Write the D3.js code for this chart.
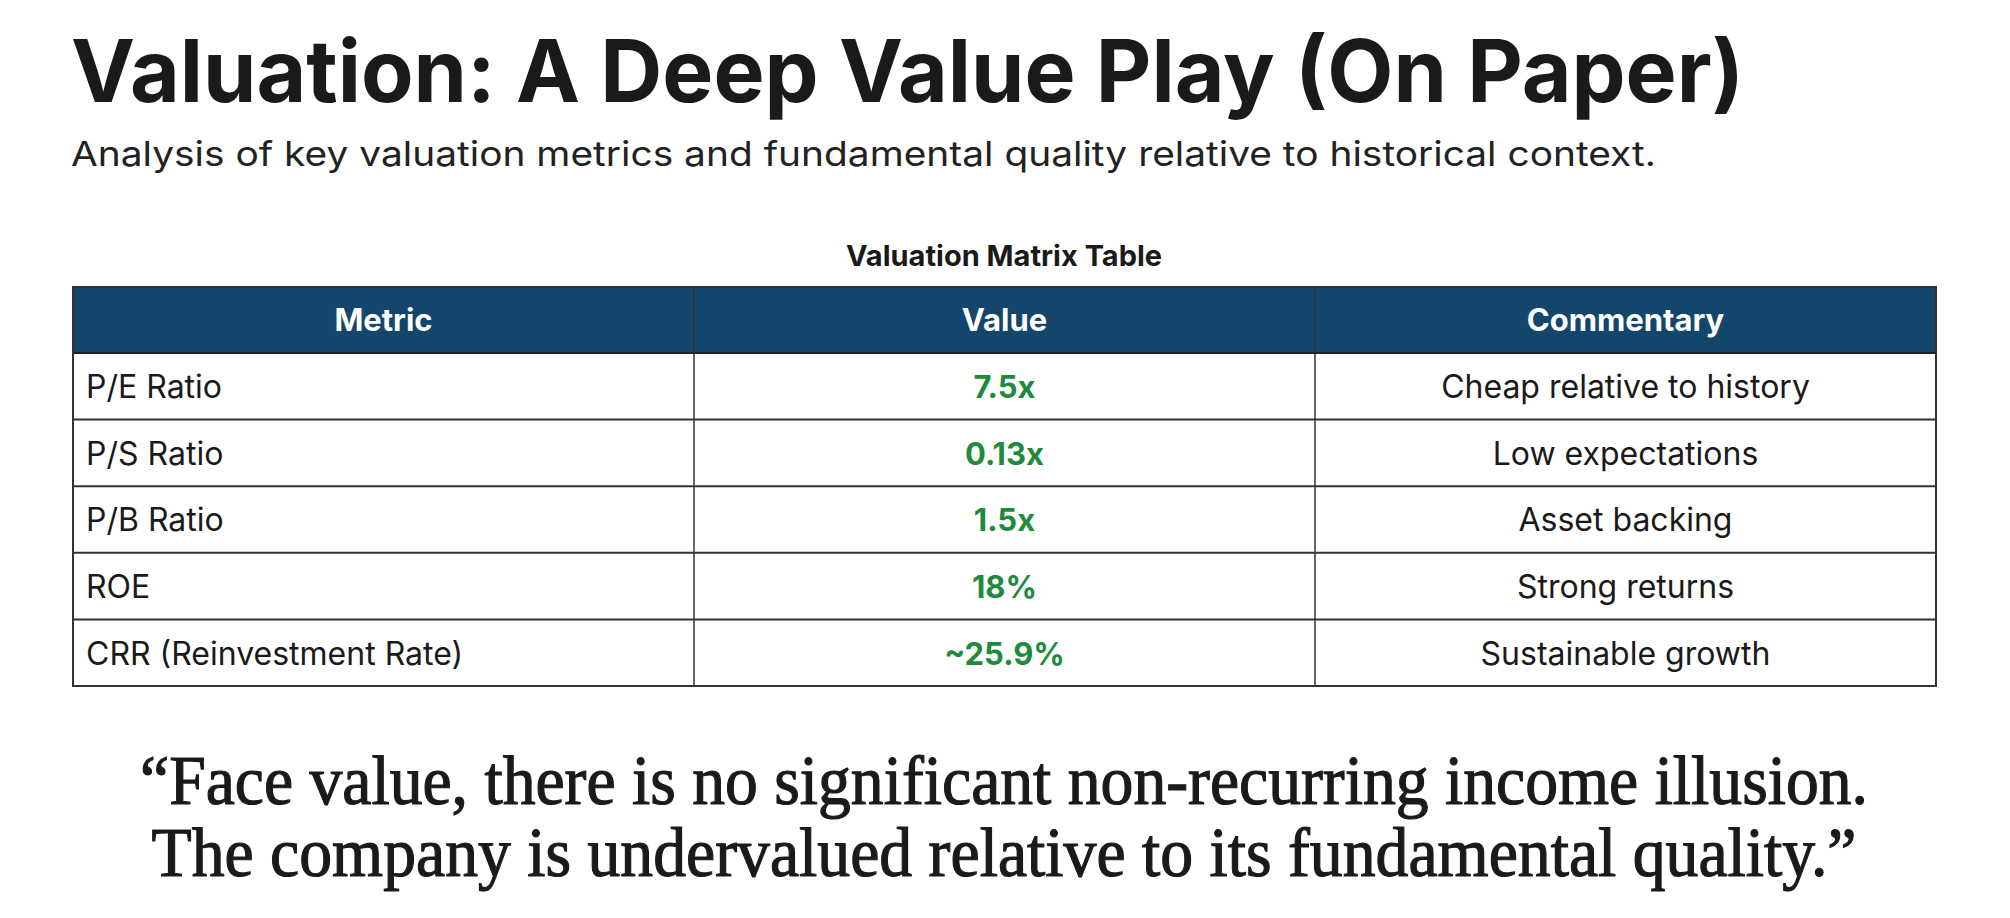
<!DOCTYPE html>
<html><head><meta charset="utf-8">
<script src="https://cdn.jsdelivr.net/npm/d3@7"></script>
<style>body{margin:0;background:#fff}</style>
</head><body>
<script>
const columns = ['Metric', 'Value', 'Commentary'];
const metrics = ['P/E Ratio', 'P/S Ratio', 'P/B Ratio', 'ROE', 'CRR (Reinvestment Rate)'];
const values = ['7.5x', '0.13x', '1.5x', '18%', '~25.9%'];
const comments = ['Cheap relative to history', 'Low expectations', 'Asset backing', 'Strong returns', 'Sustainable growth'];
const quoteLines = ['\u201cFace value, there is no significant non-recurring income illusion.',
  'The company is undervalued relative to its fundamental quality.\u201d'];

const W = 2010, H = 918;
const svg = d3.select('body').append('svg').attr('width', W).attr('height', H);

svg.append('text').attr('x', 71).attr('y', 102)
  .attr('font-family', 'Inter').attr('font-weight', 700).attr('font-size', 86)
  .attr('fill', '#1a1a1a').attr('textLength', 1673).attr('lengthAdjust', 'spacingAndGlyphs')
  .text('Valuation: A Deep Value Play (On Paper)');
svg.append('text').attr('x', 71).attr('y', 166)
  .attr('font-family', 'Inter').attr('font-size', 34).attr('fill', '#222')
  .attr('textLength', 1585).attr('lengthAdjust', 'spacingAndGlyphs')
  .text('Analysis of key valuation metrics and fundamental quality relative to historical context.');

svg.append('text').attr('x', 1004).attr('y', 266).attr('text-anchor', 'middle')
  .attr('font-family', 'Inter').attr('font-weight', 700).attr('font-size', 29).attr('fill', '#1a1a1a')
  .text('Valuation Matrix Table');

const x = d3.scaleLinear().domain([0, 3]).range([73, 1936]);
const headerTop = 287, headerH = 66;
const y = d3.scaleBand().domain(d3.range(metrics.length)).range([headerTop + headerH, 686]);

const g = svg.append('g');
g.append('rect').attr('x', x(0)).attr('y', headerTop).attr('width', x(3) - x(0)).attr('height', headerH)
  .attr('fill', '#14466b');
g.selectAll('text.h').data(columns).join('text').attr('class', 'h')
  .attr('x', (d, i) => (x(i) + x(i + 1)) / 2).attr('y', headerTop + headerH / 2 + 11)
  .attr('text-anchor', 'middle').attr('font-family', 'Inter').attr('font-weight', 700)
  .attr('font-size', 31).attr('fill', '#fff').text(d => d);

const rows = metrics.map((m, i) => ({m, v: values[i], c: comments[i], i}));
const row = g.selectAll('g.row').data(rows).join('g').attr('class', 'row')
  .attr('transform', d => `translate(0,${y(d.i)})`);
row.append('text').attr('x', x(0) + 13).attr('y', y.bandwidth() / 2 + 12)
  .attr('font-family', 'Inter').attr('font-size', 32).attr('fill', '#1a1a1a').text(d => d.m);
row.append('text').attr('x', (x(1) + x(2)) / 2).attr('y', y.bandwidth() / 2 + 12).attr('text-anchor', 'middle')
  .attr('font-family', 'Inter').attr('font-weight', 700).attr('font-size', 31).attr('fill', '#1e8a3c').text(d => d.v);
row.append('text').attr('x', (x(2) + x(3)) / 2).attr('y', y.bandwidth() / 2 + 12).attr('text-anchor', 'middle')
  .attr('font-family', 'Inter').attr('font-size', 32).attr('fill', '#1a1a1a').text(d => d.c);

// grid lines
g.selectAll('line.hz').data(d3.range(metrics.length)).join('line').attr('class', 'hz')
  .attr('x1', x(0)).attr('x2', x(3)).attr('y1', d => y(d) + y.bandwidth()).attr('y2', d => y(d) + y.bandwidth())
  .attr('stroke', '#333').attr('stroke-width', 2);
g.selectAll('line.vt').data([1, 2]).join('line').attr('class', 'vt')
  .attr('x1', d => x(d)).attr('x2', d => x(d)).attr('y1', headerTop).attr('y2', 686)
  .attr('stroke', '#333').attr('stroke-width', 1.5);
g.append('rect').attr('x', x(0)).attr('y', headerTop).attr('width', x(3) - x(0)).attr('height', 686 - headerTop)
  .attr('fill', 'none').attr('stroke', '#333').attr('stroke-width', 2);
g.append('line').attr('x1', x(0)).attr('x2', x(3)).attr('y1', headerTop + headerH).attr('y2', headerTop + headerH)
  .attr('stroke', '#222').attr('stroke-width', 2);

svg.selectAll('text.q').data(quoteLines).join('text').attr('class', 'q')
  .attr('x', 1004).attr('y', (d, i) => 804 + i * 72).attr('text-anchor', 'middle')
  .attr('font-family', 'Liberation Serif').attr('font-size', 70).attr('fill', '#1a1a1a')
  .attr('stroke', '#1a1a1a').attr('stroke-width', 1.2)
  .attr('textLength', (d, i) => i ? 1705 : 1728).attr('lengthAdjust', 'spacingAndGlyphs')
  .text(d => d);
</script>
</body></html>
